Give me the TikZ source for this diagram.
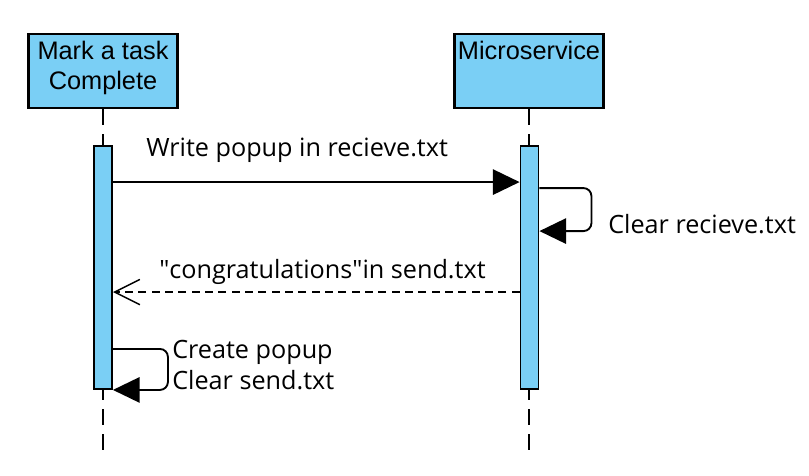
\documentclass[tikz,border=0pt]{standalone}
\usepackage{fontspec}
\setmainfont{Open Sans}
\newfontfamily\boxfont{Liberation Sans}
\usetikzlibrary{calc,positioning,arrows.meta}
\definecolor{caixa}{HTML}{7ACFF5}

\begin{document}
\begin{tikzpicture}[x=0.75pt,y=-0.75pt,
  actor/.style={draw, line width=1.6pt, fill=caixa, minimum width=111.75pt, minimum height=55.5pt, inner sep=0pt},
  actortxt/.style={font=\boxfont\fontsize{19}{22.5}\selectfont, align=center, inner sep=0pt},
  bar/.style={draw, line width=1.4pt, fill=caixa, minimum width=13.5pt, minimum height=182.25pt, inner sep=0pt},
  life/.style={line width=1.5pt, dash pattern=on 12pt off 6.75pt},
  msg/.style={line width=1.4pt, -{Triangle[length=20pt,width=19pt]}},
  reply/.style={line width=1.4pt, dash pattern=on 6pt off 4pt, -{Straight Barb[length=19pt,width=19pt,line width=1.1pt]}},
  lbl/.style={font=\fontsize{18.9}{23}\selectfont, inner sep=0pt, align=left}]
  \useasboundingbox (0,0) rectangle (809,475);
  % participants
  \node[actor] (mark) at (103,71) {};
  \node[actor] (micro) at (529,71) {};
  \node[actortxt, anchor=north] (marktxt) at (103,40.5) {Mark a task\\Complete};
  \node[actortxt, anchor=north] (microtxt) at (529,40.5) {Microservice};
  \coordinate (end1) at (103,450); \coordinate (end2) at (529,450);
  \draw[life] (mark.south) -- (end1); \draw[life] (micro.south) -- (end2);
  % activations
  \node[bar] (act1) at (103,267.5) {};
  \node[bar] (act2) at (529.5,267.5) {};
  % messages
  \draw[msg] ($(act1.north east)+(0,37)$) -- ($(act2.north west)+(0,37)$);
  \draw[msg, rounded corners=6pt] ($(act2.north east)+(0,43)$) -- ++(52,0) -- ++(0,43) -- ($(act2.north east)+(0,86)$);
  \draw[reply] ($(act2.north west)+(0,147)$) -- ($(act1.north east)+(0,147)$);
  \draw[msg, rounded corners=6pt] ($(act1.south east)+(0,-41)$) -- ++(55,0) -- ++(0,41) -- (act1.south east);
  % labels
  \node[lbl, anchor=base west] (l1) at (146,156) {Write popup in recieve.txt};
  \node[lbl, anchor=base west] (l2) at (608,233) {Clear recieve.txt};
  \node[lbl, anchor=base west] (l3) at (159,278) {\textquotedbl congratulations\textquotedbl in send.txt};
  \node[lbl, anchor=base west] (l4) at (172,389) {Create popup\\Clear send.txt};
\end{tikzpicture}
\end{document}
